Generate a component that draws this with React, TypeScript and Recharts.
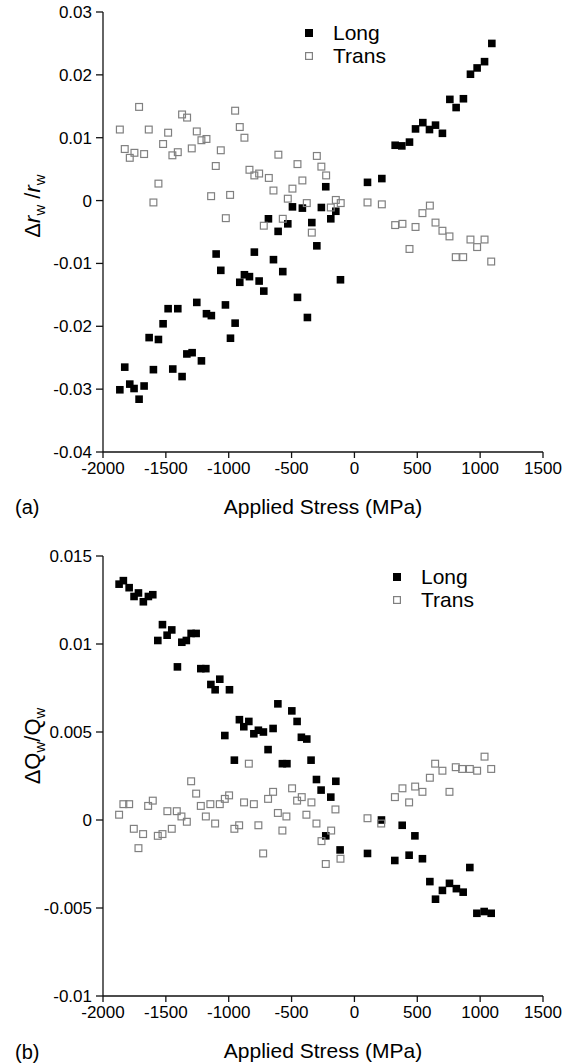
import React from 'react';
import { ScatterChart, Scatter, XAxis, YAxis, Legend } from 'recharts';

// applied stress (MPa), shared tick set
const stressTicks = [-2000, -1500, -1000, -500, 0, 500, 1000, 1500];
const drTicks = [-0.04, -0.03, -0.02, -0.01, 0, 0.01, 0.02, 0.03];
const dqTicks = [-0.01, -0.005, 0, 0.005, 0.01, 0.015];

// (a) delta r_w / r_w
const aLongX = [-1866, -1827, -1787, -1753, -1713, -1673, -1633, -1599, -1559, -1522, -1482, -1445, -1405, -1371, -1333, -1291, -1254, -1217, -1177, -1138, -1100, -1063, -1026, -986, -949, -912, -875, -835, -796, -758, -721, -684, -644, -607, -570, -530, -493, -453, -414, -374, -339, -299, -263, -228, -188, -148, -111, 104, 218, 324, 377, 438, 486, 544, 597, 645, 700, 759, 809, 867, 923, 976, 1035, 1093];
const aLongY = [-0.0301, -0.0265, -0.0292, -0.0299, -0.0316, -0.0295, -0.0218, -0.0269, -0.0221, -0.0196, -0.0172, -0.0268, -0.0172, -0.028, -0.0244, -0.0242, -0.0162, -0.0255, -0.018, -0.0183, -0.0085, -0.0111, -0.0166, -0.0219, -0.0195, -0.013, -0.0118, -0.0121, -0.0082, -0.0128, -0.0144, -0.0029, -0.0094, -0.0049, -0.0113, -0.0037, -0.001, -0.0154, -0.0012, -0.0186, -0.0035, -0.0072, -0.0011, 0.0022, -0.0029, -0.0017, -0.0126, 0.0029, 0.0035, 0.0088, 0.0087, 0.0093, 0.0114, 0.0124, 0.0113, 0.012, 0.0107, 0.0161, 0.0148, 0.0162, 0.0201, 0.0211, 0.0221, 0.025];
const aTransX = [-1866, -1827, -1787, -1750, -1713, -1673, -1636, -1599, -1559, -1522, -1482, -1448, -1405, -1371, -1331, -1294, -1254, -1217, -1177, -1140, -1103, -1063, -1023, -989, -949, -912, -875, -835, -796, -758, -721, -681, -644, -605, -570, -530, -493, -453, -414, -379, -339, -299, -263, -225, -188, -148, -109, 104, 218, 324, 382, 438, 486, 541, 600, 645, 700, 756, 806, 865, 923, 976, 1035, 1088];
const aTransY = [0.0113, 0.0082, 0.0068, 0.0076, 0.0149, 0.0074, 0.0113, -0.0003, 0.0027, 0.009, 0.0108, 0.0072, 0.0077, 0.0137, 0.0132, 0.0083, 0.011, 0.0096, 0.0098, 0.0007, 0.0055, 0.008, -0.0028, 0.0009, 0.0143, 0.0117, 0.01, 0.0049, 0.004, 0.0043, -0.004, 0.0036, 0.0016, 0.0073, -0.0029, 0.0003, 0.0019, 0.0058, 0.0032, -0.0004, -0.0051, 0.0071, 0.0054, 0.004, -0.0011, 0.0001, -0.0004, -0.0003, -0.0006, -0.0039, -0.0037, -0.0077, -0.0042, -0.002, -0.0008, -0.0035, -0.0048, -0.0057, -0.009, -0.009, -0.0062, -0.0074, -0.0062, -0.0097];

// (b) delta Q_w / Q_w
const bLongX = [-1872, -1838, -1792, -1753, -1718, -1679, -1639, -1604, -1564, -1527, -1490, -1453, -1408, -1373, -1337, -1299, -1259, -1222, -1182, -1142, -1108, -1071, -1031, -994, -955, -915, -880, -840, -800, -764, -724, -687, -647, -609, -573, -537, -498, -456, -422, -379, -345, -302, -265, -228, -188, -148, -114, 104, 215, 321, 380, 435, 481, 541, 600, 645, 700, 756, 811, 865, 918, 974, 1032, 1088];
const bLongY = [0.0134, 0.0136, 0.0132, 0.0127, 0.0129, 0.0124, 0.0127, 0.0128, 0.0102, 0.0111, 0.0105, 0.0108, 0.0087, 0.0101, 0.0102, 0.0106, 0.0106, 0.0086, 0.0086, 0.0077, 0.0074, 0.008, 0.0048, 0.0074, 0.0034, 0.0057, 0.0053, 0.0056, 0.0049, 0.0051, 0.005, 0.004, 0.0052, 0.0066, 0.0032, 0.0032, 0.0062, 0.0056, 0.0047, 0.0046, 0.0034, 0.0023, 0.0017, -0.0009, 0.0013, 0.0022, -0.0017, -0.0019, 0.0, -0.0023, -0.0003, -0.002, -0.0009, -0.0022, -0.0035, -0.0045, -0.004, -0.0036, -0.0039, -0.0041, -0.0027, -0.0053, -0.0052, -0.0053];
const bTransX = [-1872, -1838, -1792, -1755, -1718, -1681, -1641, -1604, -1564, -1527, -1488, -1453, -1413, -1376, -1333, -1299, -1259, -1222, -1182, -1146, -1108, -1071, -1031, -997, -955, -917, -878, -840, -800, -764, -726, -687, -647, -609, -573, -541, -496, -456, -419, -382, -342, -302, -262, -228, -185, -151, -111, 104, 213, 322, 382, 435, 483, 541, 600, 642, 700, 756, 806, 857, 918, 976, 1035, 1088];
const bTransY = [0.0003, 0.0009, 0.0009, -0.0005, -0.0016, -0.0008, 0.0008, 0.0011, -0.0009, -0.0008, 0.0005, -0.0005, 0.0005, 0.0002, -0.0001, 0.0022, 0.0015, 0.0008, 0.0002, 0.0009, -0.0002, 0.0009, 0.0012, 0.0014, -0.0005, -0.0003, 0.001, 0.0032, 0.0009, -0.0003, -0.0019, 0.0012, 0.0016, 0.0004, -0.0006, 0.0002, 0.0018, 0.0011, 0.0013, 0.0003, 0.001, -0.0002, -0.0012, -0.0025, -0.0006, 0.0006, -0.0022, 0.0001, -0.0002, 0.0013, 0.0018, 0.001, 0.0019, 0.0016, 0.0024, 0.0032, 0.0028, 0.0016, 0.003, 0.0029, 0.0029, 0.0028, 0.0036, 0.0029];

const zip = (xs: number[], ys: number[]) => xs.map((x, i) => ({ x, y: ys[i] }));

const FONT = '"Liberation Sans", Arial, sans-serif';
const HOLLOW = '#808080';

const FilledSquare = (props: any) => (
  <rect x={props.cx - 3.8} y={props.cy - 3.8} width={7.6} height={7.6} fill="#000" />
);
const HollowSquare = (props: any) => (
  <rect x={props.cx - 3.4} y={props.cy - 3.4} width={6.8} height={6.8} fill="none" stroke={HOLLOW} strokeWidth={1.2} />
);

const LegendBox = () => (
  <div style={{ fontFamily: FONT, fontSize: 21, lineHeight: '23px', color: '#000' }}>
    {[{ name: 'Long', filled: true }, { name: 'Trans', filled: false }].map((e) => (
      <div key={e.name} style={{ display: 'flex', alignItems: 'center', height: 23 }}>
        <svg width={8} height={8} style={{ marginRight: 20 }}>
          {e.filled
            ? <rect x={0} y={0} width={8} height={8} fill="#000" />
            : <rect x={0.6} y={0.6} width={6.8} height={6.8} fill="none" stroke={HOLLOW} strokeWidth={1.2} />}
        </svg>
        <span>{e.name}</span>
      </div>
    ))}
  </div>
);

const axisProps = {
  stroke: '#111',
  strokeWidth: 1.3,
  tick: { fill: '#000', fontSize: 17, fontFamily: FONT },
};

interface PanelProps {
  top: number;
  height: number;
  marginTop: number;
  marginBottom: number;
  yTicks: number[];
  long: { x: number; y: number }[];
  trans: { x: number; y: number }[];
  legendLeft: number;
  legendTop: number;
  yLabel: React.ReactNode;
  tag: string;
  tagY: number;
}

const Panel = (p: PanelProps) => (
  <div style={{ position: 'absolute', left: 0, top: p.top }}>
    <ScatterChart
      width={574}
      height={p.height}
      margin={{ top: p.marginTop, right: 31, bottom: p.marginBottom, left: 43 }}
    >
      <XAxis
        type="number"
        dataKey="x"
        domain={[-2000, 1500]}
        ticks={stressTicks}
        interval={0}
        tickSize={6}
        tickMargin={4}
        {...axisProps}
        label={{ value: 'Applied Stress (MPa)', position: 'bottom', offset: 17, fill: '#000', fontSize: 21, fontFamily: FONT }}
      />
      <YAxis
        type="number"
        dataKey="y"
        width={60}
        domain={[p.yTicks[0], p.yTicks[p.yTicks.length - 1]]}
        ticks={p.yTicks}
        interval={0}
        tickSize={7}
        tickMargin={4}
        {...axisProps}
      />
      <Legend
        layout="vertical"
        align="center"
        verticalAlign="middle"
        content={<LegendBox />}
        wrapperStyle={{ left: p.legendLeft, top: p.legendTop, width: 'auto' }}
      />
      <Scatter name="Long" data={p.long} shape={FilledSquare} isAnimationActive={false} />
      <Scatter name="Trans" data={p.trans} shape={HollowSquare} isAnimationActive={false} />
    </ScatterChart>
    <svg width={574} height={p.height} style={{ position: 'absolute', left: 0, top: 0, pointerEvents: 'none' }}>
      <text
        transform="translate(40,206) rotate(-90)"
        textAnchor="middle"
        fontFamily={FONT}
        fontSize={22}
        fill="#000"
      >
        {p.yLabel}
      </text>
      <text x={15} y={p.tagY} fontFamily={FONT} fontSize={20} fill="#000">{p.tag}</text>
    </svg>
  </div>
);

export default function App() {
  return (
    <div style={{ position: 'absolute', left: 0, top: 0, width: 574, height: 1064, background: '#fff' }}>
      <Panel
        top={0}
        height={530}
        marginTop={12}
        marginBottom={48}
        yTicks={drTicks}
        long={zip(aLongX, aLongY)}
        trans={zip(aTransX, aTransY)}
        legendLeft={305}
        legendTop={21}
        tag="(a)"
        tagY={514}
        yLabel={
          <>
            Δ<tspan fontStyle="italic">r</tspan>
            <tspan dy={5} fontSize={15}>w</tspan>
            <tspan dy={-5}> /</tspan>
            <tspan fontStyle="italic">r</tspan>
            <tspan dy={5} fontSize={15}>w</tspan>
          </>
        }
      />
      <Panel
        top={540}
        height={524}
        marginTop={16}
        marginBottom={38}
        yTicks={dqTicks}
        long={zip(bLongX, bLongY)}
        trans={zip(bTransX, bTransY)}
        legendLeft={393}
        legendTop={25}
        tag="(b)"
        tagY={519}
        yLabel={
          <>
            ΔQ
            <tspan dy={5} fontSize={15}>w</tspan>
            <tspan dy={-5}>/Q</tspan>
            <tspan dy={5} fontSize={15}>w</tspan>
          </>
        }
      />
    </div>
  );
}
